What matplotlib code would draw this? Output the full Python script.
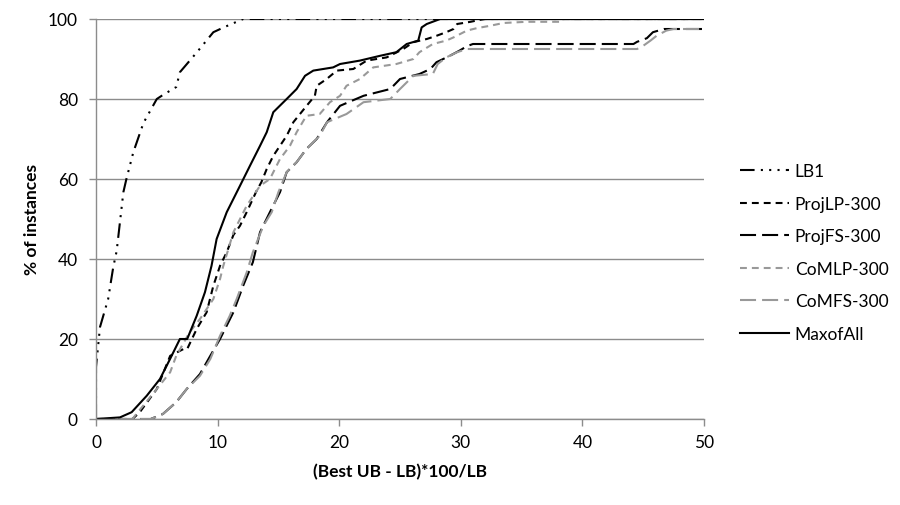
import matplotlib
matplotlib.use("Agg")
import matplotlib.pyplot as plt

plt.rcParams['font.family'] = ['Lato', 'DejaVu Sans']

series_names = ["LB1", "ProjLP-300", "ProjFS-300", "CoMLP-300", "CoMFS-300", "MaxofAll"]

lb1_x = [0, 0, 0.33, 1.0, 1.42, 1.7, 2.25, 2.5, 3.07, 3.9, 5.0, 5.5, 6.6, 6.9, 8.3, 9.65, 10.5, 12.1, 50]
lb1_y = [0, 13, 23, 30, 38, 42, 56.7, 60, 66.7, 74, 80, 81, 83, 86.7, 91.7, 96.7, 97.9, 100, 100]

projlp_x = [0, 3.0, 3.6, 5.0, 6.1, 7.2, 7.5, 8.28, 9.1, 9.65, 10.2, 10.75, 11.3, 11.84, 12.39, 13.2, 13.6,
            14.04, 14.58, 15.68, 16.23, 17.32, 18.0, 18.15, 18.97, 19.8, 21.16, 22.26, 23.9, 25.27, 26.1,
            27.2, 28.0, 28.8, 29.4, 29.7, 30.8, 31.6, 32.0, 50]
projlp_y = [0, 0, 1.7, 7.5, 15.8, 17.5, 17.5, 22.5, 26.7, 33.3, 38.3, 41.7, 46, 48.3, 51.7, 57, 59.2,
            62.5, 65.8, 70.8, 74.2, 78.3, 80.8, 83.3, 85, 87.1, 87.5, 89.6, 90.4, 92.5, 94.2,
            95, 95.8, 96.7, 97.5, 98.75, 99.3, 99.8, 100, 100]

projfs_x = [0, 4.5, 5.5, 6.6, 7.46, 8.55, 9.4, 10.2, 11.3, 12.1, 12.9, 13.49, 14.3, 15.13, 15.68, 16.5,
            17.3, 18.15, 19.0, 20.07, 22.0, 24.2, 25.0, 26.6, 27.5, 28.0, 29.1, 29.9, 30.5, 31.0, 44.2,
            44.5, 45.3, 45.8, 46.7, 50]
projfs_y = [0, 0, 1.25, 4.2, 7.5, 11.25, 15.8, 20, 26.7, 33.3, 39.2, 46.7, 51.7, 56.7, 61.7, 64.2,
            67.5, 70, 74.2, 78.3, 80.8, 82.5, 85, 86.25, 87.5, 89.2, 90.8, 92.1, 93.2, 93.75, 93.75,
            94.3, 95.2, 96.7, 97.5, 97.5]

comlp_x = [0, 3.0, 3.2, 5.0, 6.1, 6.6, 7.7, 8.55, 9.65, 10.2, 10.47, 11.3, 12.39, 13.49, 14.3, 15.13,
           15.95, 16.5, 17.3, 18.4, 19.24, 20.07, 20.6, 21.7, 22.8, 24.7, 26.1, 26.6, 27.7, 28.8, 29.4,
           30.5, 31.3, 32.4, 33.5, 35.4, 38.2, 38.3, 50]
comlp_y = [0, 0, 0.8, 7.5, 11.7, 15.8, 21.7, 25, 30, 35, 38.3, 46.7, 53.3, 58.3, 60, 65,
           68.3, 71.7, 75.8, 76.25, 79.2, 80.8, 83.3, 85, 87.9, 88.75, 90, 91.7, 93.75, 94.6, 95.4,
           97.1, 97.7, 98.3, 99, 99.3, 99.3, 100, 100]

comfs_x = [0, 4.5, 5.5, 6.6, 7.46, 8.55, 9.4, 10.2, 11.0, 11.57, 12.4, 12.9, 13.76, 14.45, 15.0, 15.68,
           16.5, 17.3, 18.4, 19.0, 20.6, 22.0, 24.2, 25.0, 26.1, 27.7, 28.1, 28.8, 29.7, 30.5, 44.5,
           45.0, 45.6, 46.1, 46.9, 47.5, 50]
comfs_y = [0, 0, 1.25, 4.2, 7.5, 10.8, 15, 20.8, 25.8, 30, 36.7, 41.7, 48.3, 51.7, 56.7, 61.7,
           64.2, 67.5, 70.8, 74.2, 76.25, 79.2, 80, 82.5, 85.8, 86.25, 88.75, 90.4, 91.7, 92.5, 92.5,
           93.3, 94.6, 95.8, 97.1, 97.5, 97.5]

maxall_x = [0, 1.97, 2.93, 4.17, 5.26, 6.09, 6.9, 7.5, 8.28, 8.96, 9.5, 9.92, 10.75, 11.84, 12.66, 13.49,
            14.04, 14.58, 15.68, 16.5, 17.19, 17.87, 19.5, 20.07, 21.7, 23.36, 24.7, 25.55, 26.5, 26.78,
            27.2, 28.3, 50]
maxall_y = [0, 0.4, 1.7, 5.8, 10, 15, 20, 20, 25.8, 31.7, 38.3, 45, 51.7, 58.3, 63.3, 68.3,
            71.7, 76.7, 80, 82.5, 85.8, 87.1, 87.9, 88.75, 89.6, 90.8, 91.7, 93.75, 94.6, 97.9,
            98.75, 100, 100]

x_ticks = [0, 10, 20, 30, 40, 50]
y_ticks = [0, 20, 40, 60, 80, 100]

BLACK = "#000000"
GRAY = "#999999"
lw = 1.5
styles = [
    dict(color=BLACK, linestyle=(0, (7, 3, 1, 3, 1, 3, 1, 3))),
    dict(color=BLACK, linestyle=(0, (3.3, 2.4))),
    dict(color=BLACK, linestyle=(0, (7.7, 2.9))),
    dict(color=GRAY, linestyle=(0, (3.3, 2.4))),
    dict(color=GRAY, linestyle=(0, (7.7, 2.9))),
    dict(color=BLACK, linestyle="-"),
]
data = [(lb1_x, lb1_y), (projlp_x, projlp_y), (projfs_x, projfs_y),
        (comlp_x, comlp_y), (comfs_x, comfs_y), (maxall_x, maxall_y)]

fig = plt.figure(figsize=(9, 5.06), dpi=100)
ax = fig.add_axes([96 / 900, 1 - 420 / 506, (704 - 96) / 900, 400 / 506])

for (xs, ys), name, st in zip(data, series_names, styles):
    ax.plot(xs, ys, label=name, lw=lw, **st)

ax.set_xlim(0, 50)
ax.set_ylim(0, 100)
ax.set_xticks(x_ticks)
ax.set_yticks(y_ticks)
ax.yaxis.grid(True, color="#8c8c8c", lw=1.0)
ax.set_axisbelow(True)
for s in ["top", "right"]:
    ax.spines[s].set_visible(False)
for s in ["left", "bottom"]:
    ax.spines[s].set_color("#8c8c8c")
    ax.spines[s].set_linewidth(1.0)
ax.tick_params(axis="both", direction="out", length=5, color="#8c8c8c", width=1.0,
               labelsize=12.5, labelcolor="black")
ax.tick_params(axis="x", pad=6)
ax.tick_params(axis="y", pad=8)

ax.set_xlabel("(Best UB - LB)*100/LB", fontsize=12.5, fontweight="bold", labelpad=9)
ax.set_ylabel("% of instances", fontsize=12.5, fontweight="bold", labelpad=6)

fig.legend(loc="center left", bbox_to_anchor=(740 / 900, 1 - 253.5 / 506), frameon=False,
           fontsize=12.5, handlelength=2.8, handletextpad=0.35, labelspacing=0.95,
           borderpad=0, borderaxespad=0)

fig.savefig("out.png", dpi=100)
